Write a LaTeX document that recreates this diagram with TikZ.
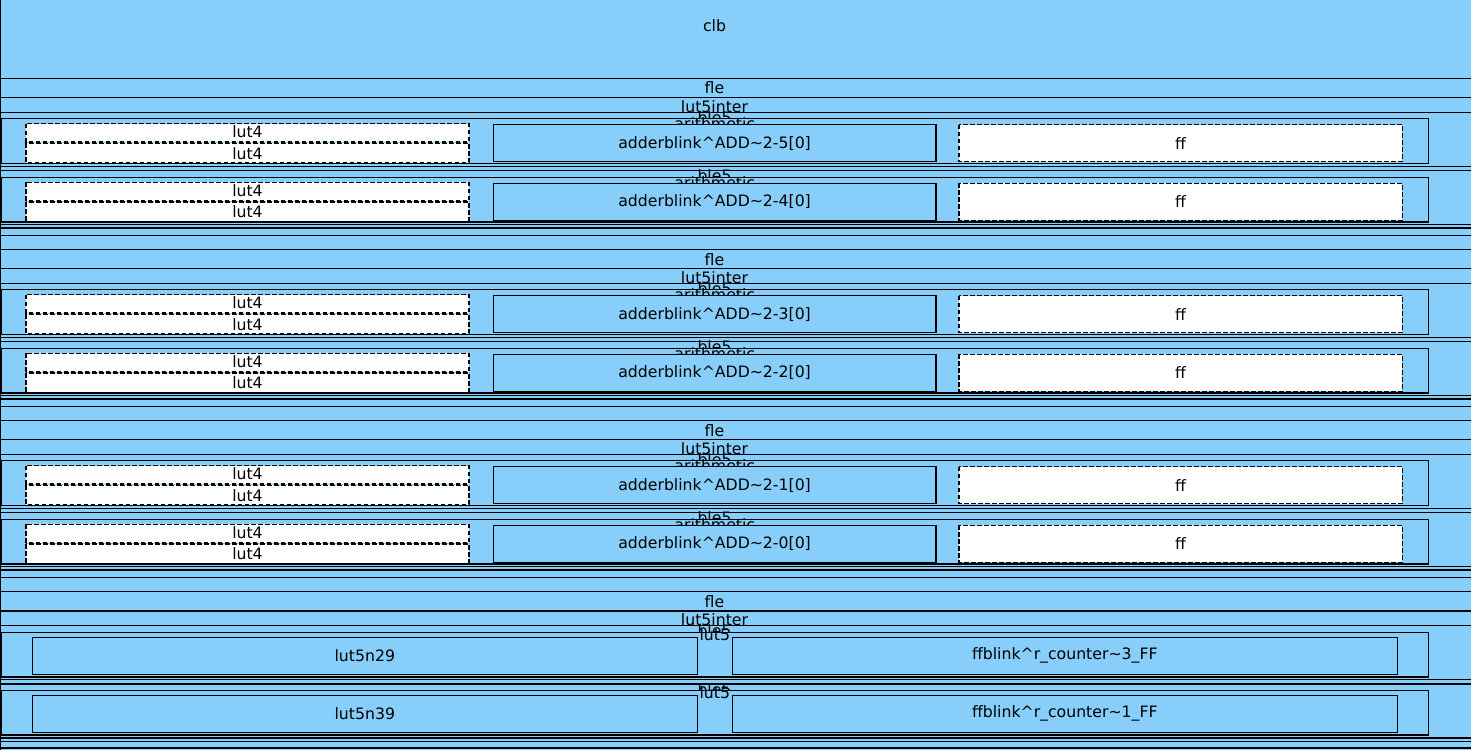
\documentclass[tikz,border=0pt]{standalone}
\usepackage{fontspec}
\setmainfont{DejaVu Sans}
\definecolor{bx}{RGB}{135,206,250}
\newcommand\lblfont{\fontsize{15.7pt}{18pt}\selectfont}
\tikzset{
  blk/.style={draw=black, fill=bx, line width=1.4pt},
  dbox/.style={draw=black, fill=white, line width=1.4pt, dash pattern=on 4.5pt off 2.5pt},
  lbl/.style={font=\lblfont, inner sep=0pt, text=black},
  toplbl/.style={lbl, anchor=base},
}
\begin{document}
\begin{tikzpicture}[x=1pt,y=-1pt]
\useasboundingbox (0,0) rectangle (1471,749);
\clip (0,0) rectangle (1471,749);
% clb
\draw[blk] (0.5,-20) rectangle (1520,780);
\node[toplbl] (clb) at (714.5,32) {clb};
% three fle blocks with arithmetic bles
\foreach \k/\a/\b in {0/5/4,1/3/2,2/1/0}{
  \begin{scope}[shift={(0,78.3+171*\k)}]
    \draw[blk] (0.3,0) rectangle (1520,157);
    \node[toplbl] (fle-\k) at (714.5,15.7) {fle};
    \draw[blk] (0.3,19.3) rectangle (1520,149.6);
    \node[toplbl] (inter-\k) at (714.5,34.4) {lut5inter};
    \foreach \j/\t/\m/\n in {1/34/40.3/\a,2/92.3/99/\b}{
      \draw[blk] (0.3,\t) rectangle (1520,\t+54);
      \node[toplbl] (ble-\k-\j) at (714.5,\t+11.3) {ble5};
      \draw[blk] (1.3,\m) rectangle (1428.3,\m+44.8);
      \node[toplbl] (arith-\k-\j) at (714.75,\m+11.3) {arithmetic};
      \draw[dbox] (26,\m+5) rectangle (469,\m+23.4);
      \node[lbl] (lutA-\k-\j) at (247.5,\m+12.9) {lut4};
      \draw[dbox] (26,\m+24.7) rectangle (469,\m+44);
      \node[lbl] (lutB-\k-\j) at (247.5,\m+34.6) {lut4};
      \draw[blk] (493.3,\m+6) rectangle (936,\m+43);
      \node[lbl] (add-\k-\j) at (714.6,\m+24.5) {adderblink\textasciicircum ADD\textasciitilde 2-\n[0]};
      \draw[dbox] (959,\m+6) rectangle (1402.3,\m+43);
      \node[lbl] (ff-\k-\j) at (1180.6,\m+24.5) {ff};
    }
  \end{scope}
}
% fourth fle with lut5 bles
\begin{scope}[shift={(0,591.3)}]
  \draw[blk] (0.3,0) rectangle (1520,156.8);
  \node[toplbl] (fle-3) at (714.5,15.7) {fle};
  \draw[blk] (0.3,19.8) rectangle (1520,150);
  \node[toplbl] (inter-3) at (714.5,34.6) {lut5inter};
  \foreach \j/\t/\m/\n/\c in {1/34/41/29/3,2/92.6/99/39/1}{
    \draw[blk] (0.3,\t) rectangle (1520,\t+54);
    \node[toplbl] (ble-3-\j) at (714.5,\t+11.3) {ble5};
    \draw[blk] (1.3,\m) rectangle (1428.3,\m+44.6);
    \node[toplbl] (mode-3-\j) at (714.75,\m+8.5) {lut5};
    \draw[blk] (32.3,\m+5) rectangle (697.3,\m+42);
    \node[lbl] (lutn-\j) at (364.8,\m+23.5) {lut5n\n};
    \draw[blk] (732.3,\m+5) rectangle (1397.3,\m+42);
    \node[lbl] (ffb-\j) at (1064.8,\m+23.5) {ffblink\textasciicircum r\_counter\textasciitilde\c\_FF};
  }
\end{scope}
\end{tikzpicture}
\end{document}
